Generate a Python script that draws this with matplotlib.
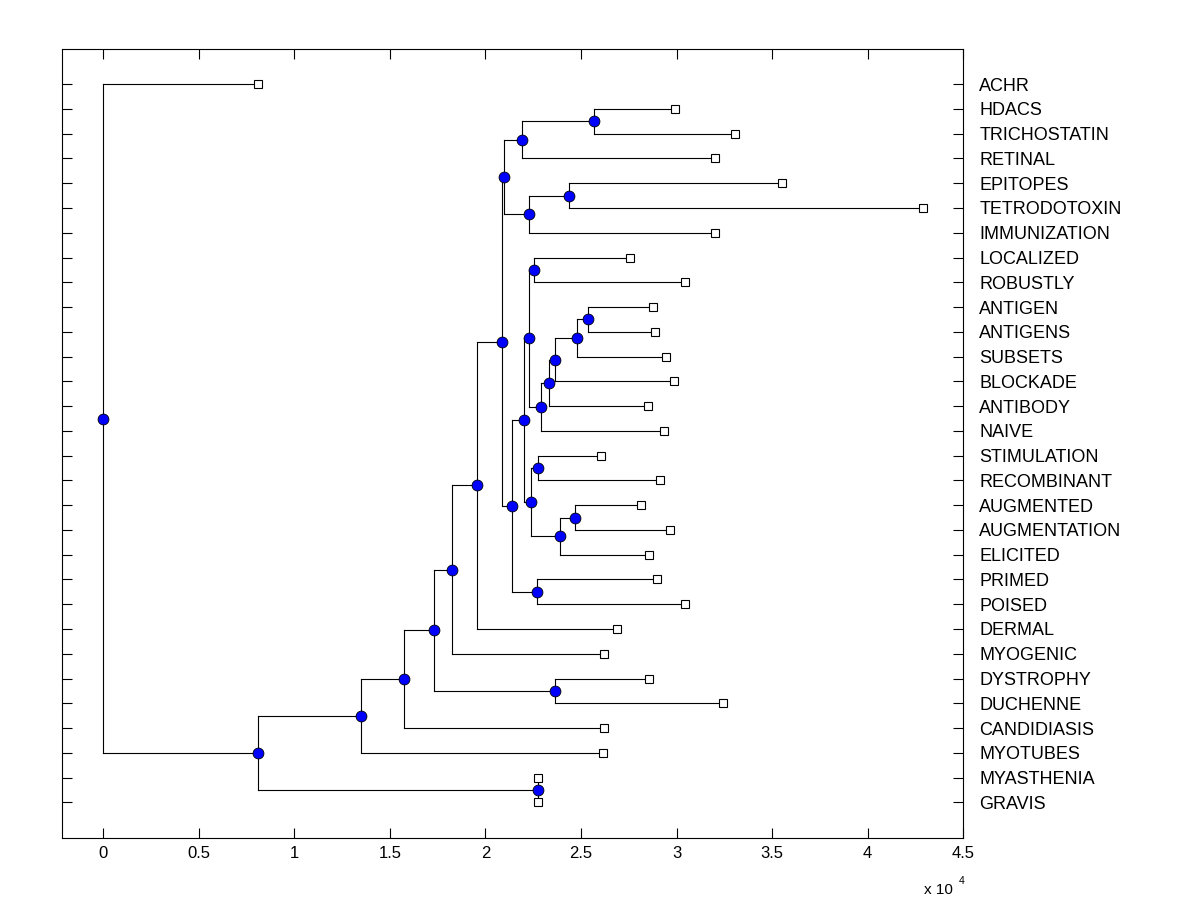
import matplotlib
matplotlib.use('Agg')
import matplotlib.pyplot as plt
import numpy as np
from matplotlib.ticker import FuncFormatter, MultipleLocator

plt.rcParams['font.family'] = ['Liberation Sans', 'DejaVu Sans']

# leaves, top to bottom, with their distance from the root
leaf_names = ['ACHR', 'HDACS', 'TRICHOSTATIN', 'RETINAL', 'EPITOPES',
              'TETRODOTOXIN', 'IMMUNIZATION', 'LOCALIZED', 'ROBUSTLY',
              'ANTIGEN', 'ANTIGENS', 'SUBSETS', 'BLOCKADE', 'ANTIBODY',
              'NAIVE', 'STIMULATION', 'RECOMBINANT', 'AUGMENTED',
              'AUGMENTATION', 'ELICITED', 'PRIMED', 'POISED', 'DERMAL',
              'MYOGENIC', 'DYSTROPHY', 'DUCHENNE', 'CANDIDIASIS', 'MYOTUBES',
              'MYASTHENIA', 'GRAVIS']
leaf_dist = [8110, 29930, 33070, 32030, 35530,
             42910, 32030, 27580, 30460,
             28780, 28890, 29460, 29880, 28520,
             29360, 26060, 29150, 28150,
             29670, 28570, 28990, 30460, 26900,
             26220, 28570, 32440, 26220, 26160,
             22760, 22760]

# branch nodes (ids 30..58), children given by node id
branch_children = [(1, 2), (30, 3), (4, 5), (32, 6), (31, 33),
                   (7, 8), (9, 10), (36, 11), (37, 12), (38, 13),
                   (39, 14), (35, 40), (15, 16), (17, 18), (43, 19),
                   (42, 44), (41, 45), (20, 21), (46, 47), (34, 48),
                   (49, 22), (50, 23), (24, 25), (51, 52), (53, 26),
                   (54, 27), (28, 29), (55, 56), (0, 57)]
branch_dist = [25690, 21930, 24390, 22290, 20980,
               22550, 25380, 24800, 23650, 23320,
               22920, 22290, 22760, 24700, 23910,
               22400, 22030, 22710, 21400, 20840,
               19570, 18260, 23650, 17320, 15750,
               13500, 22760, 8110, 0]

n_leaf = len(leaf_names)
node_x = list(leaf_dist) + list(branch_dist)
node_y = [float(i) for i in range(n_leaf)] + [0.0] * len(branch_dist)
for k, (a, b) in enumerate(branch_children):
    node_y[n_leaf + k] = (node_y[a] + node_y[b]) / 2.0

fig = plt.figure(figsize=(12, 9), dpi=100)
ax = fig.add_axes([0.0519, 0.0686, 0.7508, 0.8767])

for k, (a, b) in enumerate(branch_children):
    px = node_x[n_leaf + k]
    ax.plot([px, px], [node_y[a], node_y[b]], color='k', lw=0.8, zorder=1)
    for c in (a, b):
        ax.plot([px, node_x[c]], [node_y[c], node_y[c]], color='k', lw=0.8, zorder=1)

ax.plot(node_x[:n_leaf], node_y[:n_leaf], 's', ms=6, mfc='white', mec='k',
        mew=0.8, ls='none', zorder=3)
ax.plot(node_x[n_leaf:], node_y[n_leaf:], 'o', ms=7.8, mfc='#0000ff', mec='k',
        mew=0.6, ls='none', zorder=4)

ax.set_xlim(-2145, 45000)
ax.set_ylim(30.45, -1.41)
ax.xaxis.set_major_locator(MultipleLocator(5000))
ax.xaxis.set_major_formatter(FuncFormatter(lambda v, p: '%g' % (v / 1e4)))
ax.set_yticks(range(n_leaf))
ax.set_yticklabels(leaf_names)

ax.tick_params(axis='x', direction='in', length=7, width=0.8, top=True,
               bottom=True, labelsize=12, pad=5.5)
ax.tick_params(axis='y', direction='in', length=7, width=0.8, left=True,
               right=True, labelleft=False, labelright=True, labelsize=13,
               pad=11.5)
for s in ax.spines.values():
    s.set_linewidth(0.8)

fig.text(924 / 1200, 1 - 894 / 900, 'x 10', fontsize=11, ha='left', va='baseline')
fig.text(959 / 1200, 1 - 884 / 900, '4', fontsize=7.5, ha='left', va='baseline')

fig.savefig('out.png', dpi=100)
